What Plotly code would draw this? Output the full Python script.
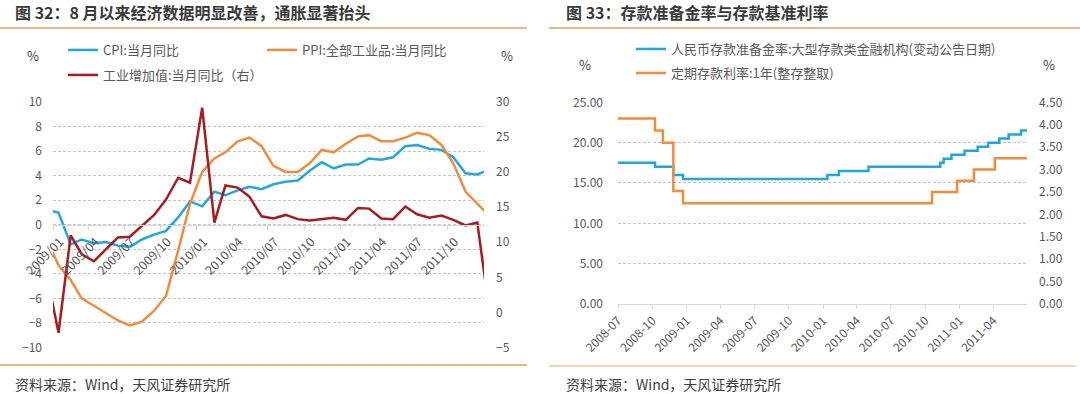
import pandas as pd
import plotly.graph_objects as go

# ---------------- Left chart data (monthly, 2008/12 - 2012/01) ----------------
months = pd.date_range("2008-12-01", "2012-01-01", freq="MS")
cpi = [1.2, 1.0, -1.6, -1.2, -1.5, -1.4, -1.7, -1.8, -1.2, -0.8, -0.5, 0.6, 1.9,
       1.5, 2.7, 2.4, 2.8, 3.1, 2.9, 3.3, 3.5, 3.6, 4.4, 5.1, 4.6,
       4.9, 4.9, 5.4, 5.3, 5.5, 6.4, 6.5, 6.2, 6.1, 5.5, 4.2, 4.1,
       4.5]
ppi = [-1.1, -3.3, -4.5, -6.0, -6.6, -7.2, -7.8, -8.2, -7.9, -7.0, -5.8, -2.1, 1.7,
       4.3, 5.4, 5.9, 6.8, 7.1, 6.4, 4.8, 4.3, 4.3, 5.0, 6.1, 5.9,
       6.6, 7.2, 7.3, 6.8, 6.8, 7.1, 7.5, 7.3, 6.5, 5.0, 2.7, 1.7,
       0.7]
ip = [5.7, -2.9, 11.0, 8.3, 7.3, 8.9, 10.7, 10.8, 12.3, 13.9, 16.1, 19.2, 18.5,
      29.2, 12.8, 18.1, 17.8, 16.5, 13.7, 13.4, 13.9, 13.3, 13.1, 13.3, 13.5,
      13.2, 14.9, 14.8, 13.4, 13.3, 15.1, 14.0, 13.5, 13.8, 13.2, 12.4, 12.8,
      0.0]
left_ticks = ["2009/01", "2009/04", "2009/07", "2009/10", "2010/01", "2010/04",
              "2010/07", "2010/10", "2011/01", "2011/04", "2011/07", "2011/10"]

# ---------------- Right chart data (step series by announcement date) ----------------
rrr_dates = ["2008-07-01", "2008-10-08", "2008-11-26", "2008-12-22", "2010-01-12",
             "2010-02-12", "2010-05-02", "2010-11-10", "2010-11-19", "2010-12-10",
             "2011-01-14", "2011-02-18", "2011-03-18", "2011-04-17", "2011-05-12",
             "2011-06-14", "2011-06-30"]
rrr = [17.5, 17.0, 16.0, 15.5, 16.0, 16.5, 17.0, 17.5, 18.0, 18.5,
       19.0, 19.5, 20.0, 20.5, 21.0, 21.5, 21.5]
dep_dates = ["2008-07-01", "2008-10-08", "2008-10-29", "2008-11-26", "2008-12-22",
             "2010-10-19", "2010-12-25", "2011-02-08", "2011-04-05", "2011-06-30"]
dep = [4.14, 3.87, 3.60, 2.52, 2.25, 2.50, 2.75, 3.00, 3.25, 3.25]

# ---------------- styling ----------------
W, H = 1080, 394
FONT = "Noto Sans CJK SC"
GRAY = "#595959"
BLUE = "#22A6DD"
ORANGE = "#F08C3C"
RED = "#A81B20"
GOLD = "#DCA35E"
GRID = "#C4C4C4"
AXL = "#D9D9D9"


def px(xp):
    return xp / W


def py(yp):
    return (H - yp) / H


x_mid = months + pd.Timedelta(days=14)
tickvals_left = pd.to_datetime(left_ticks, format="%Y/%m")

fig = go.Figure()
fig.add_trace(go.Scatter(x=x_mid, y=cpi, name="CPI:当月同比", mode="lines",
                         line=dict(color=BLUE, width=2.5), xaxis="x", yaxis="y", legend="legend"))
fig.add_trace(go.Scatter(x=x_mid, y=ppi, name="PPI:全部工业品:当月同比", mode="lines",
                         line=dict(color=ORANGE, width=2.5), xaxis="x", yaxis="y", legend="legend2"))
fig.add_trace(go.Scatter(x=x_mid, y=ip, name="工业增加值:当月同比（右）", mode="lines",
                         line=dict(color=RED, width=2.5), xaxis="x", yaxis="y2", legend="legend3"))
fig.add_trace(go.Scatter(x=pd.to_datetime(rrr_dates), y=rrr,
                         name="人民币存款准备金率:大型存款类金融机构(变动公告日期)", mode="lines",
                         line=dict(color=BLUE, width=2.5, shape="hv"), xaxis="x2", yaxis="y3",
                         legend="legend4"))
fig.add_trace(go.Scatter(x=pd.to_datetime(dep_dates), y=dep,
                         name="定期存款利率:1年(整存整取)", mode="lines",
                         line=dict(color=ORANGE, width=2.5, shape="hv"), xaxis="x2", yaxis="y4",
                         legend="legend5"))

tickfont = dict(family=FONT, size=12, color=GRAY)

legend_common = dict(bgcolor="rgba(0,0,0,0)", font=dict(family=FONT, size=13, color=GRAY),
                     xanchor="left", yanchor="middle", itemclick=False, borderwidth=0)

fig.update_layout(
    template="none",
    width=W, height=H,
    margin=dict(l=0, r=0, t=0, b=0, autoexpand=False),
    paper_bgcolor="white", plot_bgcolor="white",
    font=dict(family=FONT, color=GRAY),
    hovermode=False,
    xaxis=dict(domain=[px(53), px(484)], type="date", automargin=False,
               range=["2009-01-01", "2012-01-01"], anchor="free", position=py(224.75),
               tickvals=tickvals_left, ticktext=left_ticks, tickangle=-45,
               tickfont=dict(family=FONT, size=12.5, color=GRAY), ticklabelshift=7,
               showline=True, linecolor=AXL, linewidth=1, ticks="outside", ticklen=4,
               tickcolor=AXL, showgrid=False, zeroline=False),
    yaxis=dict(domain=[py(347.5), py(102)], range=[-10, 10], dtick=2, tick0=-10,
               anchor="x", automargin=False,
               showgrid=True, gridcolor=GRID, griddash="3px,2px", gridwidth=1,
               zeroline=False, showline=False, ticks="", tickfont=tickfont,
               ticklabelstandoff=10),
    yaxis2=dict(overlaying="y", side="right", anchor="x", range=[-5, 30], dtick=5, tick0=-5,
                automargin=False,
                showgrid=False, zeroline=False, showline=False, ticks="", tickfont=tickfont,
                ticklabelstandoff=11),
    xaxis2=dict(domain=[px(618), px(1027)], type="date", anchor="y3", automargin=False,
                range=["2008-07-01", "2011-06-30"], dtick="M3", tick0="2008-07-01",
                tickformat="%Y-%m", tickangle=-45, tickfont=tickfont,
                showline=True, linecolor=AXL, linewidth=1, ticks="outside", ticklen=4,
                tickcolor=AXL, showgrid=False, zeroline=False),
    yaxis3=dict(domain=[py(304), py(102.3)], anchor="x2", range=[0, 25], dtick=5,
                automargin=False,
                tickformat=".2f", showgrid=True, gridcolor=GRID, griddash="3px,2px",
                zeroline=False, showline=False, ticks="", tickfont=tickfont,
                ticklabelstandoff=14),
    yaxis4=dict(overlaying="y3", side="right", anchor="x2", range=[0, 4.5], dtick=0.5,
                automargin=False,
                tickformat=".2f", showgrid=False, zeroline=False, showline=False, ticks="",
                tickfont=tickfont, ticklabelstandoff=11),
    legend=dict(x=px(63), y=py(50), **legend_common),
    legend2=dict(x=px(262), y=py(50), **legend_common),
    legend3=dict(x=px(63), y=py(75), **legend_common),
    legend4=dict(x=px(631), y=py(49), **legend_common),
    legend5=dict(x=px(631), y=py(73), **legend_common),
    showlegend=True,
)

# titles, units, sources
ann = []
ann.append(dict(text="<b>图 32：8 月以来经济数据明显改善，通胀显著抬头</b>", x=px(13), y=py(12),
                font=dict(family=FONT, size=16, color="#3A3A3A")))
ann.append(dict(text="<b>图 33：存款准备金率与存款基准利率</b>", x=px(564), y=py(12),
                font=dict(family=FONT, size=16, color="#3A3A3A")))
ann.append(dict(text="%", x=px(25), y=py(56), font=dict(family=FONT, size=13, color="#404040")))
ann.append(dict(text="%", x=px(499), y=py(56), font=dict(family=FONT, size=13, color="#404040")))
ann.append(dict(text="%", x=px(577), y=py(64), font=dict(family=FONT, size=13, color="#404040")))
ann.append(dict(text="%", x=px(1041), y=py(64), font=dict(family=FONT, size=13, color="#404040")))
ann.append(dict(text="资料来源：Wind，天风证券研究所", x=px(13), y=py(384),
                font=dict(family=FONT, size=14, color="#404040")))
ann.append(dict(text="资料来源：Wind，天风证券研究所", x=px(564), y=py(384),
                font=dict(family=FONT, size=14, color="#404040")))
for a in ann:
    a.update(xref="paper", yref="paper", xanchor="left", yanchor="middle", showarrow=False)
fig.update_layout(annotations=ann)

shapes = [
    dict(type="line", x0=0, x1=px(527), y0=py(28), y1=py(28), line=dict(color=GOLD, width=1.5)),
    dict(type="line", x0=0, x1=px(527), y0=py(365), y1=py(365), line=dict(color=GOLD, width=1.5)),
    dict(type="line", x0=px(549), x1=1, y0=py(28), y1=py(28), line=dict(color=GOLD, width=1.5)),
    dict(type="line", x0=px(549), x1=px(1076), y0=py(366), y1=py(366), line=dict(color="#EBC9A2", width=1.5)),
]
for s in shapes:
    s.update(xref="paper", yref="paper")
fig.update_layout(shapes=shapes)

fig.write_html("out.html",
               config={"displayModeBar": False, "staticPlot": True},
               post_script="document.body.style.margin='0px';"
                           "document.documentElement.style.overflow='hidden';")
